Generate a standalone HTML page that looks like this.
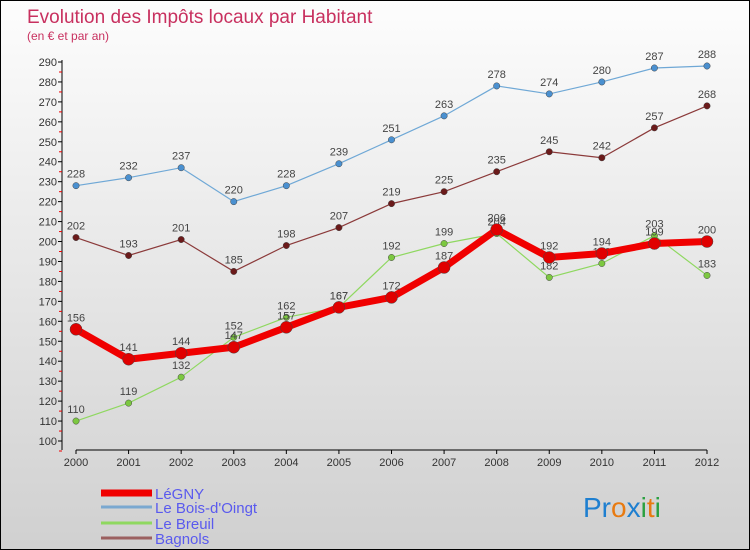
<!DOCTYPE html>
<html><head><meta charset="utf-8"><style>
body{margin:0}
#c{width:750px;height:550px;position:relative;box-sizing:border-box;border:1px solid #000;background:linear-gradient(#fdfdfd,#d0d0d0);font-family:"Liberation Sans",sans-serif;overflow:hidden}
</style></head><body>
<div id="c">
<svg id="s" width="750" height="550" style="position:absolute;left:0;top:0">
<text x="26" y="22" font-size="19" fill="#c8305f">Evolution des Impôts locaux par Habitant</text>
<text x="26" y="39" font-size="12" fill="#c8305f">(en € et par an)</text>
</svg>
</div>
<script>
const years=["2000","2001","2002","2003","2004","2005","2006","2007","2008","2009","2010","2011","2012"];
const legny=[156,141,144,147,157,167,172,187,206,192,194,199,200];
const bois=[228,232,237,220,228,239,251,263,278,274,280,287,288];
const breuil=[110,119,132,152,162,167,192,199,204,182,189,203,183];
const bagnols=[202,193,201,185,198,207,219,225,235,245,242,257,268];
const yTicks=[100,110,120,130,140,150,160,170,180,190,200,210,220,230,240,250,260,270,280,290];
const seriesNames=["LéGNY","Le Bois-d'Oingt","Le Breuil","Bagnols"];
const svg=document.getElementById('s');const NS='http://www.w3.org/2000/svg';
function X(i){return 75+i*(706-75)/(years.length-1);}
function Y(v){return 440-(v-100)*(440-61)/190;}
function mk(t,a,p){const e=document.createElementNS(NS,t);for(const k in a)e.setAttribute(k,a[k]);(p||svg).appendChild(e);return e;}
let ax=mk('line',{x1:61,y1:59,x2:61,y2:449,stroke:'#000'});


let bx=mk('line',{x1:75,y1:449,x2:706,y2:449,stroke:'#000'});


yTicks.forEach(v=>{const y=Y(v);mk('line',{x1:57,y1:y,x2:61,y2:y,stroke:'#000'});mk('line',{x1:58,y1:y+10,x2:61,y2:y+10,stroke:'#e00'});
const t=mk('text',{x:56,y:y+4,'font-size':11,fill:'#333','text-anchor':'end'});t.textContent=v;

});
years.forEach((yr,i)=>{mk('line',{x1:X(i),y1:449,x2:X(i),y2:453,stroke:'#000'});const t=mk('text',{x:X(i),y:465,'font-size':11,fill:'#333','text-anchor':'middle'});t.textContent=yr;

});
function series(data,color,dot,w,r,name){
const g=mk('g',{});


mk('polyline',{points:data.map((v,i)=>X(i)+','+Y(v)).join(' '),fill:'none',stroke:color,'stroke-width':w},g);
data.forEach((v,i)=>{const c=mk('circle',{cx:X(i),cy:Y(v),r:r,fill:dot,stroke:'#444','stroke-width':0.5},g);


const t=mk('text',{x:X(i),y:Y(v)-8,'font-size':11,fill:'#444','text-anchor':'middle'},g);t.textContent=v;

});}
series(bois,'#6fa8d6','#4a90d0',1.2,3.2,'series-bois-doingt');
series(bagnols,'#8b3a3a','#6b1a1a',1.2,3.2,'series-bagnols');
series(breuil,'#8fd860','#7cc840',1.2,3.2,'series-breuil');
series(legny,'#f00000','#e00000',7,6,'series-legny');
const lc=['#f00000','#7aa8d0','#8fd860','#9b6060'],lw=[7,3,3,3];
seriesNames.forEach((n,i)=>{
const g=mk('g',{});


const yl=[492,506,522,537][i];
mk('line',{x1:100,y1:yl,x2:151,y2:yl,stroke:lc[i],'stroke-width':lw[i]},g);
const t=mk('text',{x:154,y:yl+6,'font-size':15,fill:'#5a5aee'},g);t.textContent=n;});
const p=mk('text',{x:582,y:516,'font-size':28});


[['Pr','#1e7fd0'],['o','#e87a10'],['x','#1e7fd0'],['i','#2aa040'],['t','#e87a10'],['i','#2aa040']].forEach(a=>{const s=mk('tspan',{fill:a[1]},p);s.textContent=a[0];});
</script>
</body></html>
